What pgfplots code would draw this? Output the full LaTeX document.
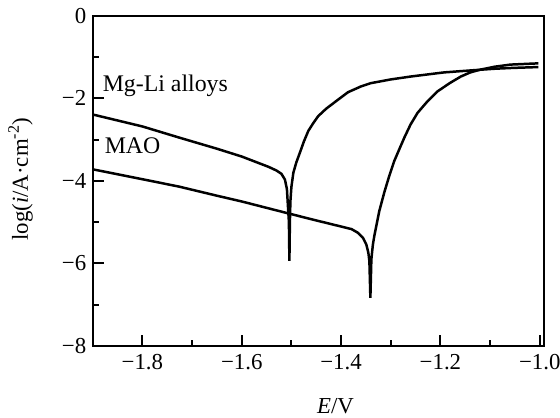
\documentclass[border=0pt]{standalone}
\usepackage{pgfplots}
\pgfplotsset{compat=1.18}
\usepackage{fontspec}
\setmainfont{Liberation Serif}
\begin{document}
\begin{tikzpicture}
\useasboundingbox (-93bp,-72bp) rectangle (469bp,347bp);
\begin{axis}[
  at={(0,0)}, anchor=south west,
  scale only axis, width=453bp, height=331bp,
  xmin=-1.9, xmax=-0.9914, ymin=-8, ymax=0,
  axis line style={line width=2bp},
  tick align=inside, xtick pos=bottom, ytick pos=left,
  xtick={-1.8,-1.6,-1.4,-1.2,-1.0},
  xticklabels={−1.8,−1.6,−1.4,−1.2,−1.0},
  minor xtick={-1.7,-1.5,-1.3,-1.1},
  ytick={-8,-6,-4,-2,0},
  yticklabels={−8,−6,−4,−2,0},
  minor ytick={-7,-5,-3,-1},
  major tick length=11bp, minor tick length=6bp,
  every tick/.style={line width=2bp, black},
  every major tick/.style={line width=2bp, black},
  every minor tick/.style={line width=2bp, black},
  ticklabel style={font=\fontsize{23}{27}\selectfont},
  xticklabel style={yshift=-5bp},
  yticklabel style={xshift=-3bp},
  xlabel={\textit{E}/V},
  ylabel={log(\textit{i}/A·cm\textsuperscript{-2})},
  label style={font=\fontsize{23}{27}\selectfont},
  xlabel style={at={(axis description cs:0.538,-0.184)}, anchor=center},
  ylabel style={at={(axis description cs:-0.160,0.505)}, anchor=center},
  clip=true,
]
\addplot[black, line width=2.5bp] coordinates {
(-1.900,-2.39) (-1.80,-2.68) (-1.726,-2.95) (-1.65,-3.22) (-1.60,-3.41)
(-1.546,-3.66) (-1.53,-3.75) (-1.52,-3.83) (-1.513,-3.97) (-1.509,-4.2)
(-1.507,-4.6) (-1.505,-5.0) (-1.504,-5.94) (-1.503,-5.0) (-1.502,-4.5)
(-1.500,-4.15) (-1.496,-3.80) (-1.49,-3.55) (-1.483,-3.32) (-1.475,-3.05)
(-1.466,-2.79) (-1.456,-2.60) (-1.446,-2.43) (-1.43,-2.25) (-1.406,-2.03)
(-1.386,-1.85) (-1.36,-1.71) (-1.34,-1.63) (-1.30,-1.54) (-1.26,-1.47)
(-1.22,-1.41) (-1.193,-1.37) (-1.16,-1.34) (-1.126,-1.31) (-1.09,-1.28)
(-1.053,-1.26) (-1.003,-1.24)
};
\addplot[black, line width=2.5bp] coordinates {
(-1.900,-3.72) (-1.80,-3.96) (-1.726,-4.14) (-1.65,-4.36) (-1.60,-4.50)
(-1.506,-4.79) (-1.45,-4.96) (-1.406,-5.09) (-1.379,-5.17) (-1.366,-5.26)
(-1.356,-5.38) (-1.349,-5.55) (-1.345,-5.75) (-1.343,-5.95) (-1.341,-6.84)
(-1.339,-5.9) (-1.336,-5.55) (-1.333,-5.33) (-1.323,-4.73) (-1.313,-4.28)
(-1.303,-3.88) (-1.293,-3.52) (-1.283,-3.24) (-1.273,-2.96) (-1.26,-2.63)
(-1.246,-2.35) (-1.226,-2.07) (-1.206,-1.83) (-1.18,-1.62) (-1.159,-1.47)
(-1.14,-1.37) (-1.119,-1.30) (-1.09,-1.23) (-1.059,-1.18) (-1.003,-1.15)
};
\node[anchor=base west, inner sep=0pt, font=\fontsize{24}{28}\selectfont] at (axis cs:-1.880,-1.836) {Mg-Li alloys};
\node[anchor=base west, inner sep=0pt, font=\fontsize{24}{28}\selectfont] at (axis cs:-1.876,-3.33) {MAO};
\end{axis}
\end{tikzpicture}
\end{document}
